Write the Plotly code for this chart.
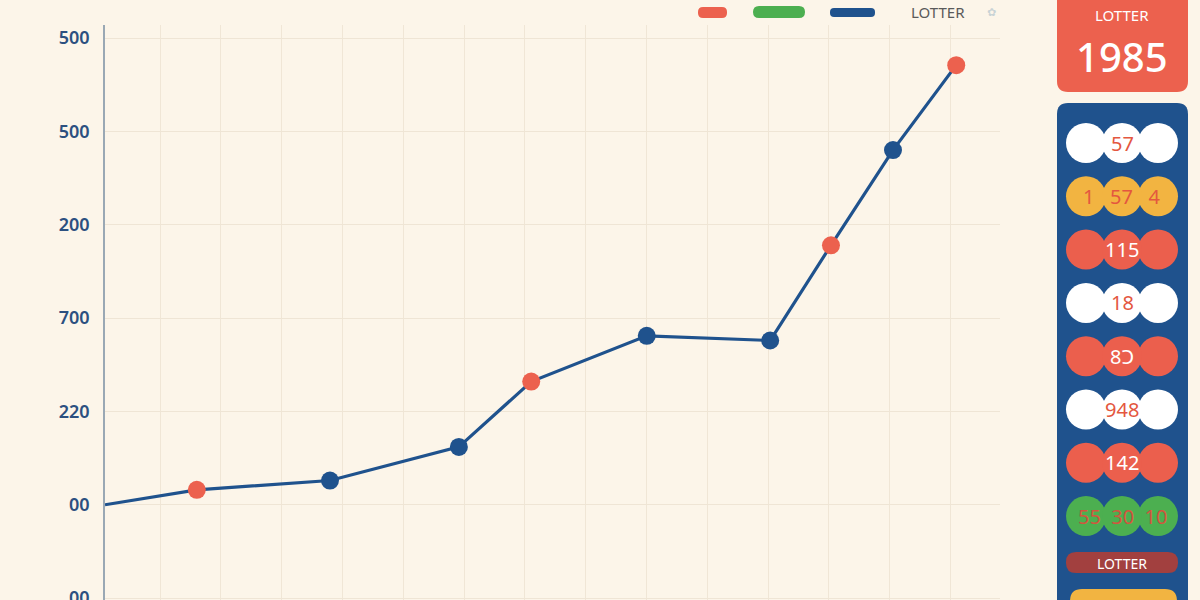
import plotly.graph_objects as go

# chart data
x_vals = [0, 1.51, 3.70, 5.82, 7.01, 8.91, 10.94, 11.94, 12.96, 14.0]
y_vals = [0, 16, 26, 62, 132, 181, 176, 278, 380, 471]
point_kind = ["none", "red", "blue", "blue", "red", "blue", "blue", "red", "blue", "red"]

y_tickvals = [-100, 0, 100, 200, 300, 400, 500]
y_ticktext = ["00", "00", "220", "700", "200", "500", "500"]

legend_labels = ["LOTTER"]
panel_title = "LOTTER"
panel_year = "1985"
ball_rows = ["57", "1   57   4", "115", "18", "8Ɔ", "948", "142", "55  30  10"]
ball_fill = ["white", "#F2B441", "#EB5F4D", "white", "#EB5F4D", "white", "#EB5F4D", "#4CAF50"]
ball_text = ["#E4573F", "#E4573F", "white", "#E4573F", "white", "#E4573F", "white", "#D2553E"]
panel_footer = "LOTTER"

BG = "#FCF5E9"
BLUE = "#1F528D"
RED = "#EC614E"
GREEN = "#4CAF50"

W, H = 1200, 600
ML, MR, MT, MB = 105, 200, 25, 0
PW, PH = W - ML - MR, H - MT - MB


def px(x):
	return (x - ML) / PW


def py(y):
	return 1 - (y - MT) / PH


def rrect(x0, y0, x1, y1, r):
	# rounded rectangle path in paper coords, from pixel corners
	rx, ry = r / PW, r / PH
	a, b, c, d = px(x0), px(x1), py(y0), py(y1)
	return (f"M{a+rx},{c} L{b-rx},{c} Q{b},{c} {b},{c-ry} L{b},{d+ry} Q{b},{d} {b-rx},{d} "
			f"L{a+rx},{d} Q{a},{d} {a},{d+ry} L{a},{c-ry} Q{a},{c} {a+rx},{c} Z")


def label(x, y, text, size, color, weight=400, family="Noto Sans"):
	return dict(xref="paper", yref="paper", x=px(x), y=py(y), text=text, showarrow=False,
		xanchor="center", yanchor="middle",
		font=dict(family=family, size=size, color=color, weight=weight))


fig = go.Figure()
fig.add_trace(go.Scatter(
	x=x_vals, y=y_vals,
	mode="lines",
	line=dict(color=BLUE, width=3.2),
	hoverinfo="skip",
	showlegend=False,
))
mx = [x for x, k in zip(x_vals, point_kind) if k != "none"]
my = [y for y, k in zip(y_vals, point_kind) if k != "none"]
mc = [RED if k == "red" else BLUE for k in point_kind if k != "none"]
fig.add_trace(go.Scatter(
	x=mx, y=my,
	mode="markers",
	marker=dict(color=mc, size=18, line=dict(width=0)),
	showlegend=False,
))

shapes = []
annotations = []

# legend-ish pills at the top
shapes.append(dict(type="path", xref="paper", yref="paper", path=rrect(698, 7, 727, 18, 5), fillcolor=RED, line=dict(width=0), layer="above"))
shapes.append(dict(type="path", xref="paper", yref="paper", path=rrect(753, 6, 805, 18, 6), fillcolor=GREEN, line=dict(width=0), layer="above"))
shapes.append(dict(type="path", xref="paper", yref="paper", path=rrect(830, 8, 875, 17, 4), fillcolor=BLUE, line=dict(width=0), layer="above"))
annotations.append(label(938, 12, legend_labels[0], 15, "#5A5A5A"))
annotations.append(label(991, 12, "✿", 11, "#C9D3D6", family="DejaVu Sans"))

# right side panel
shapes.append(dict(type="path", xref="paper", yref="paper", path=rrect(1057, -12, 1188, 92, 11), fillcolor=RED, line=dict(width=0)))
annotations.append(label(1122, 15, panel_title, 15, "white"))
annotations.append(label(1122, 56, panel_year, 40, "white", weight=500))
shapes.append(dict(type="path", xref="paper", yref="paper", path=rrect(1057, 103, 1188, 640, 11), fillcolor=BLUE, line=dict(width=0)))

for i, txt in enumerate(ball_rows):
	cy = 143 + i * 53.3
	for cx in (1158, 1086, 1122):
		shapes.append(dict(type="circle", xref="paper", yref="paper",
			x0=px(cx - 20), x1=px(cx + 20), y0=py(cy + 20), y1=py(cy - 20),
			fillcolor=ball_fill[i], line=dict(width=0)))
	annotations.append(label(1122, cy, txt, 20, ball_text[i]))

shapes.append(dict(type="path", xref="paper", yref="paper", path=rrect(1066, 552, 1178, 573, 10), fillcolor="#A2403F", line=dict(width=0)))
annotations.append(label(1122, 563, panel_footer, 14, "white"))
shapes.append(dict(type="path", xref="paper", yref="paper", path=rrect(1070, 589, 1177, 620, 12), fillcolor="#F2B441", line=dict(width=0)))

fig.update_layout(
	width=W, height=H,
	margin=dict(l=ML, r=MR, t=MT, b=MB),
	paper_bgcolor=BG,
	plot_bgcolor=BG,
	showlegend=False,
	shapes=shapes,
	annotations=annotations,
)
fig.update_xaxes(
	range=[0, 14.72],
	tick0=0.905, dtick=1,
	showgrid=True, gridcolor="#F0E6D6", gridwidth=1,
	showticklabels=False,
	zeroline=False,
	showline=False,
	automargin=False,
)
fig.update_yaxes(
	range=[-102, 514],
	tickvals=y_tickvals, ticktext=y_ticktext,
	showgrid=True, gridcolor="#EFE5D5", gridwidth=1,
	tickfont=dict(family="Noto Sans", size=18, color="#2C5080", weight=600),
	ticks="", ticklabelstandoff=10, ticklabeloverflow="allow",
	zeroline=False,
	showline=True, linecolor="#9AA8B4", linewidth=1.5,
	automargin=False,
)

fig.write_html("out.html", config={"displayModeBar": False},
	post_script="document.body.style.margin='0';")
